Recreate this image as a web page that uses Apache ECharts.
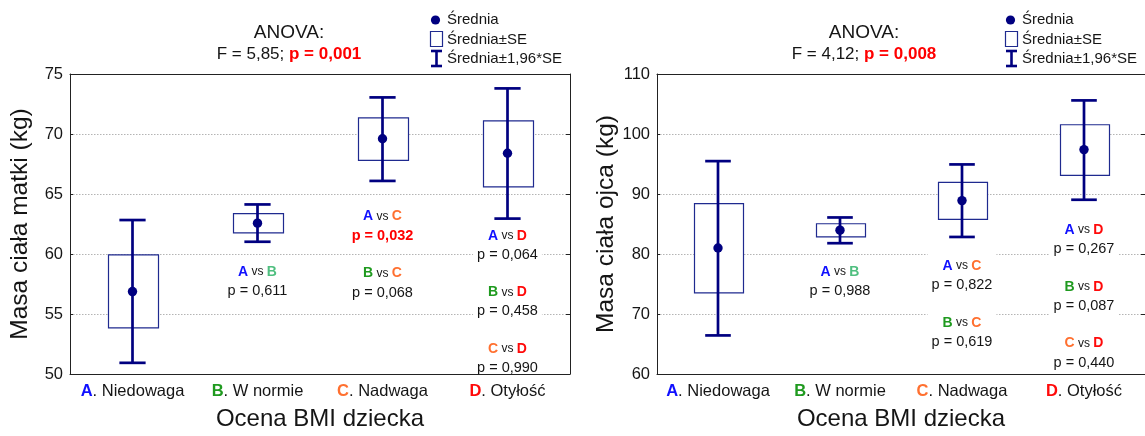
<!DOCTYPE html>
<html>
<head>
<meta charset="utf-8">
<script src="https://cdn.jsdelivr.net/npm/echarts@6/dist/echarts.min.js"></script>
<style>
  html, body { margin: 0; padding: 0; background: #fff; }
  #chart { width: 1145px; height: 436px; }
</style>
</head>
<body>
<div id="chart"></div>
<script>
// Grupy oceny BMI dziecka
const groupLetters = ['A', 'B', 'C', 'D'];
const groupNames = ['Niedowaga', 'W normie', 'Nadwaga', 'Otyłość'];

// Masa ciała matki (kg): średnia, średnia±SE, średnia±1,96*SE
const motherMean   = [56.87, 62.57, 69.60, 68.40];
const motherSeLow  = [53.85, 61.76, 67.80, 65.60];
const motherSeHigh = [59.92, 63.36, 71.35, 71.10];
const motherCiLow  = [50.93, 61.02, 66.09, 62.95];
const motherCiHigh = [62.83, 64.13, 73.05, 73.80];

// Masa ciała ojca (kg)
const fatherMean   = [81.00, 83.97, 88.90, 97.40];
const fatherSeLow  = [73.52, 82.84, 85.76, 93.11];
const fatherSeHigh = [88.40, 85.04, 91.93, 101.54];
const fatherCiLow  = [66.43, 81.80, 82.84, 89.04];
const fatherCiHigh = [95.48, 86.09, 94.93, 105.60];

// ANOVA
const motherAnovaF = '5,85', motherAnovaP = '0,001';
const fatherAnovaF = '4,12', fatherAnovaP = '0,008';

// Porównania post-hoc
const pairList = [['A', 'B'], ['A', 'C'], ['B', 'C'], ['A', 'D'], ['B', 'D'], ['C', 'D']];
const motherPairP = ['0,611', '0,032', '0,068', '0,064', '0,458', '0,990'];
const fatherPairP = ['0,988', '0,822', '0,619', '0,267', '0,087', '0,440'];

// Y-axis ticks
const motherTicks = { min: 50, max: 75, step: 5 };
const fatherTicks = { min: 60, max: 110, step: 10 };

// ---- styling ----
const FONT = "'Liberation Sans', Arial, sans-serif";
const NAVY = '#000080';
const BOX_EDGE = '#1f2a8f';
const TXT = '#151515';
const letterColor = { A: '#1010ff', B: '#1f9a1f', C: '#ff7030', D: '#ff0a0a' };
const LIGHT_GREEN = '#4fbf7f';

// where each comparison block sits: [category column, value on the y axis]
const motherSlots = [[1, 57.88], [2, 62.49], [2, 57.74], [3, 60.87], [3, 56.19], [3, 51.48]];
const fatherSlots = [[1, 75.79], [2, 76.73], [2, 67.29], [3, 82.73], [3, 73.24], [3, 63.83]];

const richLetters = {};
groupLetters.forEach(l => {
  richLetters['L' + l] = { color: letterColor[l], fontWeight: 'bold', fontSize: 14, fontFamily: FONT };
});
richLetters.Lg = { color: LIGHT_GREEN, fontWeight: 'bold', fontSize: 14, fontFamily: FONT };
richLetters.vs = { color: TXT, fontSize: 12, fontFamily: FONT };
richLetters.p = { color: TXT, fontSize: 14.5, fontFamily: FONT, lineHeight: 19 };
richLetters.ps = { color: '#ff0000', fontSize: 14.5, fontWeight: 'bold', fontFamily: FONT, lineHeight: 19 };

function pairLabel(pair, p) {
  const [a, b] = pair;
  const bKey = (a === 'A' && b === 'B') ? 'Lg' : 'L' + b;
  const sig = parseFloat(p.replace(',', '.')) < 0.05;
  return '{L' + a + '|' + a + '}{vs| vs }{' + bKey + '|' + b + '}\n{' + (sig ? 'ps' : 'p') + '|p = ' + p + '}';
}

function compareData(pValues, slots) {
  return pairList.map((pair, k) => ({
    value: slots[k],
    label: { formatter: pairLabel(pair, pValues[k]) }
  }));
}

function statsData(mean, seLo, seHi, ciLo, ciHi) {
  return mean.map((m, i) => [i, m, seLo[i], seHi[i], ciLo[i], ciHi[i]]);
}

function renderBox(params, api) {
  const i = api.value(0);
  const band = api.size([1, 0])[0];
  const pm = api.coord([i, api.value(1)]);
  const x = pm[0];
  const ySeLo = api.coord([i, api.value(2)])[1];
  const ySeHi = api.coord([i, api.value(3)])[1];
  const yCiLo = api.coord([i, api.value(4)])[1];
  const yCiHi = api.coord([i, api.value(5)])[1];
  const bw = band * 0.4, cw = band * 0.21;
  const ws = { stroke: NAVY, lineWidth: 2.7 };
  return {
    type: 'group',
    children: [
      { type: 'rect', shape: { x: Math.round(x - bw / 2) + 0.5, y: ySeHi, width: Math.round(bw), height: ySeLo - ySeHi },
        style: { fill: '#fff', stroke: BOX_EDGE, lineWidth: 1.2 } },
      { type: 'line', shape: { x1: x, y1: yCiHi, x2: x, y2: yCiLo }, style: ws },
      { type: 'line', shape: { x1: x - cw / 2, y1: yCiHi, x2: x + cw / 2, y2: yCiHi }, style: ws },
      { type: 'line', shape: { x1: x - cw / 2, y1: yCiLo, x2: x + cw / 2, y2: yCiLo }, style: ws },
      { type: 'circle', shape: { cx: x, cy: pm[1], r: 4.7 }, style: { fill: NAVY } }
    ]
  };
}

const catRich = { n: { color: TXT, fontSize: 16.5, fontFamily: FONT } };
groupLetters.forEach(l => {
  catRich['c' + l] = { color: letterColor[l], fontWeight: 'bold', fontSize: 16.5, fontFamily: FONT };
});

function xAxes(gridIndex) {
  return [
    {
      type: 'category', gridIndex, data: groupNames, position: 'bottom', z: 5,
      axisLine: { lineStyle: { color: '#222', width: 1 } },
      axisTick: { inside: true, length: 4, alignWithLabel: true, lineStyle: { color: '#222' } },
      axisLabel: {
        margin: 9, interval: 0,
        formatter: (v, idx) => '{c' + groupLetters[idx] + '|' + groupLetters[idx] + '}{n|. ' + v + '}',
        rich: catRich
      },
      name: 'Ocena BMI dziecka', nameLocation: 'middle', nameGap: 33,
      nameTextStyle: { fontSize: 24, color: TXT, fontFamily: FONT }
    },
    {
      type: 'category', gridIndex, data: groupNames, position: 'top',
      axisLine: { lineStyle: { color: '#222', width: 1 } },
      axisTick: { inside: true, length: 4, alignWithLabel: true, interval: 0, lineStyle: { color: '#222' } },
      axisLabel: { show: false }
    }
  ];
}

function yAxes(gridIndex, ticks, title) {
  return [
    {
      type: 'value', gridIndex, position: 'left',
      min: ticks.min, max: ticks.max, interval: ticks.step,
      axisLine: { show: true, lineStyle: { color: '#222', width: 1 } },
      axisTick: { show: true, inside: true, length: 3, lineStyle: { color: '#222' } },
      axisLabel: { margin: 7, color: TXT, fontSize: 16.5, fontFamily: FONT },
      splitLine: { show: true, lineStyle: { color: '#b4b4b4', type: [1.5, 1.5], width: 1 } },
      name: title, nameLocation: 'middle', nameGap: 37, nameRotate: 90,
      nameTextStyle: { fontSize: 24.5, color: TXT, fontFamily: FONT }
    },
    {
      type: 'value', gridIndex, position: 'right',
      min: ticks.min, max: ticks.max, interval: ticks.step,
      axisLine: { show: true, lineStyle: { color: '#222', width: 1 } },
      axisTick: { show: true, inside: true, length: 4, lineStyle: { color: '#222' } },
      axisLabel: { show: false },
      splitLine: { show: false }
    }
  ];
}

function panelSeries(xIdx, yIdx, stats, pValues, slots) {
  return [
    {
      type: 'custom', xAxisIndex: xIdx, yAxisIndex: yIdx,
      renderItem: renderBox, data: stats, z: 3,
      encode: { x: 0, y: [1, 2, 3, 4, 5] }
    },
    {
      type: 'scatter', xAxisIndex: xIdx, yAxisIndex: yIdx,
      symbol: 'rect', symbolSize: 1, z: 4, silent: true,
      itemStyle: { color: 'rgba(255,255,255,0)', opacity: 1 },
      data: compareData(pValues, slots),
      labelLayout: { hideOverlap: false },
      label: {
        show: true, position: 'inside', align: 'center', verticalAlign: 'middle',
        backgroundColor: '#fff', padding: [5, 4, 1, 4], lineHeight: 19,
        rich: richLetters
      }
    }
  ];
}

function anovaGraphics(cx, F, p) {
  return [
    { type: 'text', x: cx, y: 33, z: 10,
      style: { text: 'ANOVA:', font: '19px ' + FONT, fill: TXT, align: 'center', verticalAlign: 'middle' } },
    { type: 'text', x: cx, y: 54, z: 10,
      style: {
        text: '{n|F = ' + F + '; }{r|p = ' + p + '}', align: 'center', verticalAlign: 'middle',
        rich: {
          n: { fontSize: 17, fontFamily: FONT, fill: TXT },
          r: { fontSize: 17, fontFamily: FONT, fontWeight: 'bold', fill: '#ff0000' }
        }
      } }
  ];
}

function legendGraphics(x0) {
  const f = '15px ' + FONT;
  return [
    { type: 'circle', z: 10, shape: { cx: x0 + 5.5, cy: 20, r: 4.6 }, style: { fill: NAVY } },
    { type: 'text', z: 10, x: x0 + 17, y: 20, style: { text: 'Średnia', font: f, fill: TXT, verticalAlign: 'middle' } },
    { type: 'rect', z: 10, shape: { x: x0 + 0.5, y: 31.5, width: 12, height: 15 }, style: { fill: '#fff', stroke: BOX_EDGE, lineWidth: 1.2 } },
    { type: 'text', z: 10, x: x0 + 17, y: 40, style: { text: 'Średnia±SE', font: f, fill: TXT, verticalAlign: 'middle' } },
    { type: 'line', z: 10, shape: { x1: x0 + 6.5, y1: 51, x2: x0 + 6.5, y2: 66 }, style: { stroke: NAVY, lineWidth: 2.6 } },
    { type: 'line', z: 10, shape: { x1: x0 + 1, y1: 51, x2: x0 + 12, y2: 51 }, style: { stroke: NAVY, lineWidth: 2.6 } },
    { type: 'line', z: 10, shape: { x1: x0 + 1, y1: 66, x2: x0 + 12, y2: 66 }, style: { stroke: NAVY, lineWidth: 2.6 } },
    { type: 'text', z: 10, x: x0 + 17, y: 59, style: { text: 'Średnia±1,96*SE', font: f, fill: TXT, verticalAlign: 'middle' } }
  ];
}

const chart = echarts.init(document.getElementById('chart'), null, { renderer: 'canvas' });

chart.setOption({
  animation: false,
  backgroundColor: '#fff',
  textStyle: { fontFamily: FONT },
  grid: [
    { left: 70, top: 74, width: 500, height: 301 },
    { left: 657, top: 74, width: 491, height: 301 }
  ],
  xAxis: [...xAxes(0), ...xAxes(1)],
  yAxis: [
    ...yAxes(0, motherTicks, 'Masa ciała matki (kg)'),
    ...yAxes(1, fatherTicks, 'Masa ciała ojca (kg)')
  ],
  series: [
    ...panelSeries(0, 0, statsData(motherMean, motherSeLow, motherSeHigh, motherCiLow, motherCiHigh), motherPairP, motherSlots),
    ...panelSeries(2, 2, statsData(fatherMean, fatherSeLow, fatherSeHigh, fatherCiLow, fatherCiHigh), fatherPairP, fatherSlots)
  ],
  graphic: [
    ...anovaGraphics(289, motherAnovaF, motherAnovaP),
    ...anovaGraphics(864, fatherAnovaF, fatherAnovaP),
    ...legendGraphics(430),
    ...legendGraphics(1005)
  ]
});
</script>
</body>
</html>
